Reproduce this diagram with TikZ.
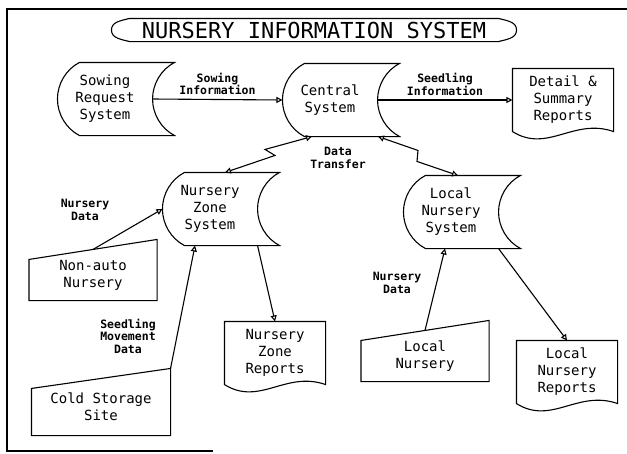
\documentclass[tikz,border=0pt]{standalone}
\usepackage{fontspec}
\setmonofont{DejaVu Sans Mono}
\usetikzlibrary{arrows.meta}

\begin{document}
\begin{tikzpicture}[x=1pt, y=-1pt, line width=1.1pt,
    >={Triangle[open, length=6pt, width=6pt]},
    heading/.style={minimum width=368, minimum height=22, inner sep=0pt, font=\ttfamily\fontsize{22}{24}\selectfont},
    store/.style={minimum width=94, minimum height=72, inner sep=0pt, align=center, font=\ttfamily\fontsize{14}{17}\selectfont},
    report/.style={minimum width=100, minimum height=62, inner sep=0pt, align=center, font=\ttfamily\fontsize{14}{17}\selectfont},
    manual/.style={minimum width=127, minimum height=50, inner sep=0pt, align=center, font=\ttfamily\fontsize{14}{17}\selectfont},
    lbl/.style={inner sep=0pt, align=center, font=\ttfamily\bfseries\fontsize{11.5}{12.5}\selectfont}]

    \useasboundingbox (0,0) rectangle (627,453);

    % Draw Frame
    \draw (627,9) -- (7,9) -- (7,451) -- (213,451);

    % Add Nodes
    \node[heading] (title) at (314,30) {NURSERY INFORMATION SYSTEM};
    \node[store] (sowing) at (105,99) {Sowing\\Request\\System};
    \node[store] (central) at (330,100) {Central\\System};
    \node[report] (detail) at (563,100) {Detail \&\\Summary\\Reports};
    \node[store] (nzone) at (210,209) {Nursery\\Zone\\System};
    \node[store] (lnsys) at (451,212) {Local\\Nursery\\System};
    \node[manual] (nonauto) at (93,275) {Non-auto\\Nursery};
    \node[manual, minimum width=138, minimum height=56] (cold) at (101,407) {Cold Storage\\Site};
    \node[manual] (localn) at (425,356) {Local\\Nursery};
    \node[report] (nzrep) at (275,353) {Nursery\\Zone\\Reports};
    \node[report] (lnrep) at (567,372) {Local\\Nursery\\Reports};

    % Draw Outlines
    \draw (title.north west) to[out=195, in=90] ([xshift=-18pt]title.west) to[out=-90, in=165] (title.south west) -- (title.south east) to[out=15, in=-90] ([xshift=18pt]title.east) to[out=90, in=-15] (title.north east) -- cycle;
    \foreach \n in {sowing,central,nzone,lnsys}{
        \draw ([xshift=22pt]\n.north west) .. controls +(-13.5,7) and +(0,-15) .. (\n.west)
            .. controls +(0,15) and +(-13.5,-7) .. ([xshift=22pt]\n.south west)
            -- ([xshift=22pt]\n.south east) .. controls +(-13.5,-7) and +(0,15) .. (\n.east)
            .. controls +(0,-15) and +(-13.5,7) .. ([xshift=22pt]\n.north east) -- cycle;
    }
    \foreach \n in {detail,nzrep,lnrep}{
        \draw (\n.south west) .. controls +(35,22) and +(-40,-14) .. (\n.south east) -- (\n.north east) -- (\n.north west) -- cycle;
    }
    \foreach \n in {nonauto,cold,localn}{
        \draw ([yshift=-10pt]\n.north west) -- ([yshift=10pt]\n.north east) -- (\n.south east) -- (\n.south west) -- cycle;
    }

    % Draw Flows
    \draw[->] (sowing.east) -- (central.west) node[lbl, midway, above=4pt] (sowinfo) {Sowing\\Information};
    \draw[->] (central.east) -- (detail.west) node[lbl, midway, above=4pt] (seedinfo) {Seedling\\Information};
    \draw[<->] ([xshift=15pt]nzone.north) -- ++(50,-17) -- ++(-10,-6) -- ([xshift=-18pt]central.south);
    \draw[<->] ([xshift=7pt]lnsys.north) -- ++(-41,-14) -- ++(1,-11) -- ([xshift=48pt]central.south);
    \node[lbl] (transfer) at (338,158) {Data\\Transfer};
    \draw[->] (nonauto.north) -- (nzone.west);
    \node[lbl] (nzdata) at (85,210) {Nursery\\Data};
    \draw[->] ([yshift=10pt]cold.north east) -- ([xshift=-15pt]nzone.south);
    \node[lbl] (movedata) at (128,336) {Seedling\\Movement\\Data};
    \draw[->] (nzone.south east) -- (nzrep.north);
    \draw[->] (localn.north) -- ([xshift=-6pt]lnsys.south);
    \node[lbl] (lndata) at (397,283) {Nursery\\Data};
    \draw[->] (lnsys.south east) -- (lnrep.north);
\end{tikzpicture}
\end{document}
